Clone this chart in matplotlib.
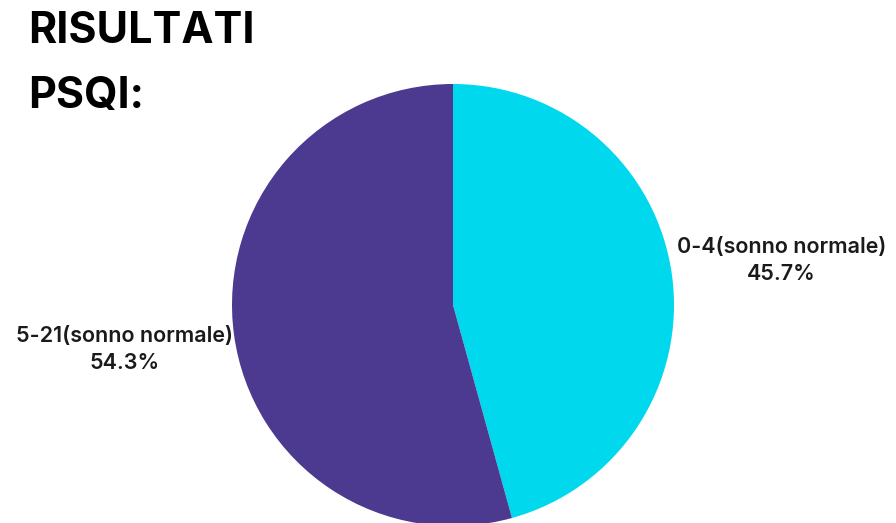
import matplotlib.pyplot as plt

# Chart data
categories = ["0-4(sonno normale)", "5-21(sonno normale)"]
percentages = [45.7, 54.3]
colors = ["#00D8EE", "#4B3A8F"]
title = "RISULTATI\nPSQI:"


def main():
    plt.rcParams['font.family'] = ['Inter', 'DejaVu Sans']

    fig = plt.figure(figsize=(8.96, 5.23), dpi=100)
    ax = fig.add_axes([0, 0, 1, 1])

    labels = [f"{c}\n{p}%" for c, p in zip(categories, percentages)]
    wedges, texts = ax.pie(
        percentages,
        labels=labels,
        colors=colors,
        startangle=90,
        counterclock=False,
        center=(453, 218),
        radius=221,
        labeldistance=1.5,
        frame=True,
        textprops={"fontsize": 15.5, "fontweight": "semibold",
                   "color": "#1a1a1a", "linespacing": 1.4},
    )
    for t in texts:
        t.set_horizontalalignment("center")
        t.set_verticalalignment("center")
    ax.set_xlim(0, 896)
    ax.set_ylim(0, 523)
    ax.axis("off")

    # Title in the top-left corner (pixel coordinates)
    fig.text(28, 523 - 11, title, transform=None, fontsize=31,
             fontweight="bold", color="black", ha="left", va="top",
             linespacing=1.75)

    fig.savefig("out.png", dpi=100)


if __name__ == "__main__":
    main()
